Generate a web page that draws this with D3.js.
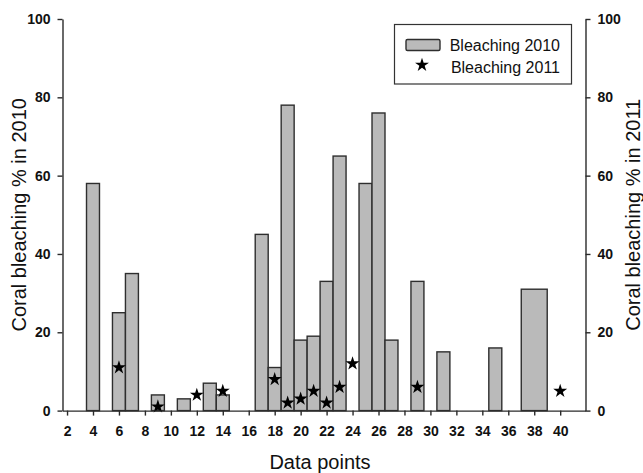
<!DOCTYPE html>
<html>
<head>
<meta charset="utf-8">
<script src="https://cdn.jsdelivr.net/npm/d3@7"></script>
<style>
  body { margin: 0; background: #fff; }
  svg { display: block; font-family: "Liberation Sans", Arial, sans-serif; }
</style>
</head>
<body>
<div class="graph"></div>
<script>
// bleaching 2010 (bars) and 2011 (stars) per data point
const barPoints  = [4, 6, 7, 9, 11, 13, 14, 17, 18, 19, 20, 21, 22, 23, 25, 26, 27, 29, 31, 35, 38];
const bleach2010 = [58, 25, 35, 4, 3, 7, 4, 45, 11, 78, 18, 19, 33, 65, 58, 76, 18, 33, 15, 16, 31];
const starPoints = [6, 9, 12, 14, 18, 19, 20, 21, 22, 23, 24, 29, 40];
const bleach2011 = [11, 1, 4, 5, 8, 2, 3, 5, 2, 6, 12, 6, 5];
const xTicks = d3.range(2, 41, 2);
const yTicks = [0, 20, 40, 60, 80, 100];
const seriesNames = ['Bleaching 2010', 'Bleaching 2011'];

const width = 643, height = 473;
const margin = {top: 19, right: 57.5, bottom: 62.4, left: 62.5};
const innerW = width - margin.left - margin.right,
      innerH = height - margin.top - margin.bottom;

const bars = barPoints.map((p, i) => ({point: p, value: bleach2010[i]}));
const stars = starPoints.map((p, i) => ({point: p, value: bleach2011[i]}));

const scaleX = d3.scaleLinear().domain([1.65, 41.95]).range([0, innerW]);
const scaleY = d3.scaleLinear().domain([0, 100]).range([innerH, 0]);
const scaleY2 = d3.scaleLinear().domain([0, 100]).range([innerH, 0]);

// the last bar in the original is drawn twice as wide
const barSpan = p => (p === 38 ? 2 : 1);

const svg = d3.select('.graph').append('svg')
    .attr('width', width)
    .attr('height', height);

const g = svg.append('g')
    .attr('transform', 'translate(' + margin.left + ',' + margin.top + ')');

g.selectAll('.bar')
  .data(bars)
  .enter().append('rect')
    .attr('class', 'bar')
    .attr('x', d => scaleX(d.point - barSpan(d.point) / 2))
    .attr('width', d => scaleX(d.point + barSpan(d.point) / 2) - scaleX(d.point - barSpan(d.point) / 2))
    .attr('y', d => scaleY(d.value))
    .attr('height', d => innerH - scaleY(d.value))
    .attr('fill', '#bababa')
    .attr('stroke', '#2e2e2e')
    .attr('stroke-width', 1.4);

const star = d3.symbol().type(d3.symbolStar).size(60);

g.selectAll('.star')
  .data(stars)
  .enter().append('path')
    .attr('class', 'star')
    .attr('d', star)
    .attr('transform', d => 'translate(' + scaleX(d.point) + ',' + scaleY2(d.value) + ')')
    .attr('fill', '#000');

const xAxis = d3.axisBottom(scaleX).tickValues(xTicks).tickSize(5).tickSizeOuter(0).tickPadding(10);
const yAxis = d3.axisLeft(scaleY).tickValues(yTicks).tickSize(5).tickSizeOuter(0).tickPadding(7);
const yAxis2 = d3.axisRight(scaleY2).tickValues(yTicks).tickSize(5).tickSizeOuter(0).tickPadding(7);

function styleAxis(sel) {
  sel.selectAll('path, line').attr('stroke', '#2a2a2a').attr('stroke-width', 1.4);
  sel.selectAll('text')
    .attr('fill', '#111')
    .style('font-size', '14px')
    .style('font-weight', 'bold')
    .style('font-family', '"Liberation Sans", Arial, sans-serif');
}

g.append('g')
    .attr('transform', 'translate(0,' + innerH + ')')
    .call(xAxis)
    .call(styleAxis);

g.append('g')
    .call(yAxis)
    .call(styleAxis);

g.append('g')
    .attr('transform', 'translate(' + innerW + ',0)')
    .call(yAxis2)
    .call(styleAxis);

// axis titles
svg.append('text')
    .attr('x', 320)
    .attr('y', 469)
    .attr('text-anchor', 'middle')
    .style('font-size', '20px')
    .attr('fill', '#111')
    .text('Data points');

svg.append('text')
    .attr('transform', 'translate(26,' + (margin.top + innerH / 2) + ') rotate(-90)')
    .attr('text-anchor', 'middle')
    .style('font-size', '20px')
    .attr('fill', '#111')
    .text('Coral bleaching % in 2010');

svg.append('text')
    .attr('transform', 'translate(639.5,' + (margin.top + innerH / 2) + ') rotate(-90)')
    .attr('text-anchor', 'middle')
    .style('font-size', '20px')
    .attr('fill', '#111')
    .text('Coral bleaching % in 2011');

// legend
const legend = svg.append('g');
legend.append('rect')
    .attr('x', 394.5).attr('y', 24.5)
    .attr('width', 177).attr('height', 59.5)
    .attr('fill', '#fff')
    .attr('stroke', '#333')
    .attr('stroke-width', 1.2);
legend.append('rect')
    .attr('x', 406).attr('y', 39.5)
    .attr('width', 34).attr('height', 11)
    .attr('rx', 1.5)
    .attr('fill', '#bababa')
    .attr('stroke', '#2e2e2e')
    .attr('stroke-width', 1.4);
legend.append('path')
    .attr('d', star)
    .attr('transform', 'translate(422,65)')
    .attr('fill', '#000');
legend.selectAll('.legend-label')
  .data(seriesNames)
  .enter().append('text')
    .attr('class', 'legend-label')
    .attr('x', 560)
    .attr('y', (d, i) => 51 + i * 21.5)
    .attr('text-anchor', 'end')
    .style('font-size', '16px')
    .attr('fill', '#111')
    .text(d => d);
</script>
</body>
</html>
